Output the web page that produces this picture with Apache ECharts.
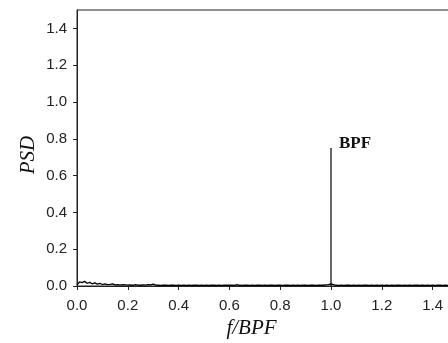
<!DOCTYPE html>
<html>
<head>
<meta charset="UTF-8">
<title>PSD</title>
<script src="https://cdn.jsdelivr.net/npm/echarts@6/dist/echarts.min.js"></script>
<style>html,body{margin:0;padding:0;background:#fff;}</style>
</head>
<body>
<div id="chart" style="width:448px;height:343px"></div>
<script type="text/javascript">
// background spectrum, one value every 0.01 f/BPF starting at 0
var freqStep = 0.01;
var noisePSD = [
  0.006, 0.022, 0.018, 0.025, 0.015, 0.020, 0.012, 0.017, 0.010, 0.014,
  0.008, 0.011, 0.007, 0.009, 0.012, 0.006, 0.008, 0.005, 0.007, 0.006,
  0.005, 0.006, 0.004, 0.007, 0.005, 0.004, 0.006, 0.005, 0.008, 0.006,
  0.010, 0.005, 0.004, 0.003, 0.005, 0.004, 0.003, 0.004, 0.005, 0.003,
  0.004, 0.003, 0.005, 0.003, 0.004, 0.003, 0.004, 0.005, 0.003, 0.004,
  0.003, 0.004, 0.003, 0.005, 0.004, 0.003, 0.004, 0.003, 0.004, 0.005,
  0.004, 0.005, 0.003, 0.007, 0.004, 0.003, 0.005, 0.004, 0.003, 0.004,
  0.003, 0.004, 0.005, 0.003, 0.004, 0.003, 0.004, 0.005, 0.003, 0.004,
  0.004, 0.003, 0.004, 0.005, 0.003, 0.004, 0.003, 0.004, 0.003, 0.005,
  0.004, 0.003, 0.004, 0.005, 0.003, 0.004, 0.005, 0.004, 0.006, 0.008,
  0.012, 0.007, 0.004, 0.003, 0.004, 0.003, 0.004, 0.005, 0.003, 0.004,
  0.003, 0.004, 0.003, 0.005, 0.004, 0.003, 0.004, 0.003, 0.004, 0.003,
  0.004, 0.003, 0.005, 0.003, 0.004, 0.003, 0.004, 0.005, 0.003, 0.004,
  0.003, 0.004, 0.003, 0.004, 0.005, 0.003, 0.004, 0.003, 0.004, 0.003,
  0.004, 0.003, 0.004, 0.005, 0.003, 0.004, 0.003, 0.004, 0.003, 0.004, 0.003
];
// the blade passing frequency peak
var peakFreq = 1.0;
var peakPSD = 0.75;
var peakName = 'BPF';
// tick labels
var xTicks = [0, 0.2, 0.4, 0.6, 0.8, 1.0, 1.2, 1.4];
var yTicks = [0, 0.2, 0.4, 0.6, 0.8, 1.0, 1.2, 1.4];

var noiseData = [];
for (var i = 0; i < noisePSD.length; i++) {
  noiseData.push([+(i * freqStep).toFixed(2), noisePSD[i]]);
}

var axisColor = '#222';
var tickFont = {fontFamily: 'Liberation Sans', fontSize: 15, color: '#222'};

var chart = echarts.init(document.getElementById('chart'));
var option = {
  backgroundColor: '#fff',
  animation: false,
  grid: {
    left: 77, top: 10, width: 381, height: 276,
    outerBoundsMode: 'none', containLabel: false,
    show: true, borderColor: axisColor, borderWidth: 1
  },
  xAxis: {
    type: 'value', min: 0, max: 1.5,
    name: 'f/BPF', nameLocation: 'middle', nameGap: 31,
    nameTextStyle: {fontFamily: 'Liberation Serif', fontStyle: 'italic', fontSize: 21, color: '#111', padding: [0, 32, 0, 0]},
    axisLine: {show: true, lineStyle: {color: axisColor, width: 1}},
    axisTick: {show: true, length: 4, customValues: xTicks, lineStyle: {color: axisColor}},
    axisLabel: Object.assign({margin: 12, customValues: xTicks, formatter: function (v) { return v.toFixed(1); }}, tickFont),
    splitLine: {show: false}
  },
  yAxis: {
    type: 'value', min: 0, max: 1.5,
    name: 'PSD', nameLocation: 'middle', nameGap: 38, nameRotate: 90, nameMoveOverlap: false,
    nameTextStyle: {fontFamily: 'Liberation Serif', fontStyle: 'italic', fontSize: 21, color: '#111', padding: [0, 14, 0, 0]},
    axisLine: {show: true, lineStyle: {color: axisColor, width: 1}},
    axisTick: {show: true, length: 4, customValues: yTicks, lineStyle: {color: axisColor}},
    axisLabel: Object.assign({margin: 10, customValues: yTicks, formatter: function (v) { return v.toFixed(1); }}, tickFont),
    splitLine: {show: false}
  },
  series: [
    {
      type: 'line', data: noiseData, showSymbol: false,
      lineStyle: {color: '#000', width: 1.3}
    },
    {
      type: 'line', data: [[peakFreq, 0], [peakFreq, peakPSD]], showSymbol: false,
      lineStyle: {color: '#000', width: 1.2},
      markPoint: {
        symbol: 'circle', symbolSize: 0,
        data: [{coord: [peakFreq, peakPSD]}],
        label: {
          show: true, position: 'right', distance: 8, offset: [0, -4],
          formatter: peakName,
          fontFamily: 'Liberation Serif', fontWeight: 'bold', fontSize: 17, color: '#111'
        }
      }
    }
  ]
};
chart.setOption(option);
</script>
</body>
</html>
